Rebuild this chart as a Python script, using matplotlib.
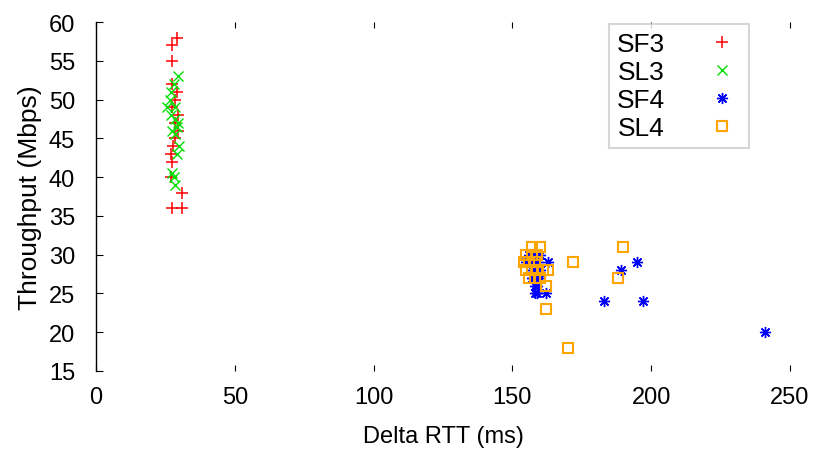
import matplotlib
matplotlib.use("Agg")
import matplotlib.pyplot as plt

plt.rcParams['font.family'] = ['Liberation Sans', 'DejaVu Sans']

# SF3 (red +)
sf3_rtt = [29.1, 27.5, 27.5, 27.5, 29.0, 28.5, 27.5, 29.5, 28.5, 29.5, 28.5, 27.8, 27.0, 27.5, 27.0, 31.1, 27.5, 30.9]
sf3_tput = [58, 57, 55, 52, 51, 50, 49, 48, 47, 46, 45, 44, 43, 42, 40, 38, 36, 36]

# SL3 (green x)
sl3_rtt = [29.5, 28.0, 27.0, 26.5, 28.5, 25.5, 29.5, 27.5, 28.5, 30.0, 29.0, 27.5, 28.0, 28.5, 27.0, 28.5, 29.0]
sl3_tput = [53, 52, 51, 50, 49, 49, 47, 46, 45.5, 44, 43, 40.5, 40, 39, 48, 47.5, 46.5]

# SF4 (blue asterisk)
sf4_rtt = [156, 158, 160, 155, 157, 159, 163, 157, 158, 159, 160, 157, 158, 159, 160,
           158, 159, 158, 159, 162, 183, 189, 195, 197, 241]
sf4_tput = [30, 30, 30, 29, 29, 29, 29, 28, 28, 28, 28, 27, 27, 27, 27,
            26, 26, 25, 25, 25, 24, 28, 29, 24, 20]

# SL4 (orange square)
sl4_rtt = [157, 160, 155, 157, 159, 154, 156, 158, 155, 157, 159, 161, 163, 156, 158, 160,
           162, 162, 172, 188, 190, 170]
sl4_tput = [31, 31, 30, 30, 30, 29, 29, 29, 28, 28, 28, 28, 28, 27, 27, 27,
            26, 23, 29, 27, 31, 18]

fig = plt.figure(figsize=(8.16, 4.64), dpi=100)
ax = fig.add_axes([96 / 816, 1 - 372 / 464, 694 / 816, 349 / 464])

ms = 8
ax.plot(sf3_rtt, sf3_tput, linestyle='none', marker='+', color='#ff0000', ms=ms, mew=1.1, label='SF3')
ax.plot(sl3_rtt, sl3_tput, linestyle='none', marker='x', color='#00e000', ms=ms - 1, mew=1.0, label='SL3')
ax.plot(sf4_rtt, sf4_tput, linestyle='none', marker=(8, 2, 0), color='#0000ff', ms=ms, mew=1.0, label='SF4')
ax.plot(sl4_rtt, sl4_tput, linestyle='none', marker='s', color='#ffa500', mfc='none', ms=ms - 1, mew=1.5, label='SL4')

ax.set_xlim(0, 250)
ax.set_ylim(15, 60)
ax.set_xticks([0, 50, 100, 150, 200, 250])
ax.set_yticks(range(15, 61, 5))

for side in ['top', 'right', 'bottom']:
    ax.spines[side].set_visible(False)
ax.spines['left'].set_linewidth(1.0)

ax.tick_params(axis='x', direction='in', top=True, bottom=True, length=4, labelsize=17, pad=11)
ax.tick_params(axis='y', direction='in', left=True, right=False, length=5, labelsize=17, pad=15)

ax.set_xlabel('Delta RTT (ms)', fontsize=17, labelpad=12)
ax.set_ylabel('Throughput (Mbps)', fontsize=19, labelpad=5)

leg = ax.legend(loc='upper left', bbox_to_anchor=(609 / 816, 1 - 25 / 464),
                bbox_transform=fig.transFigure, markerfirst=False, numpoints=1,
                fontsize=19, frameon=True, fancybox=False, labelspacing=0.15,
                handlelength=1.5, handletextpad=1.4, borderpad=0.3, borderaxespad=0)
leg.get_frame().set_edgecolor('#cccccc')
leg.get_frame().set_linewidth(1.5)

fig.savefig('out.png', dpi=100)
